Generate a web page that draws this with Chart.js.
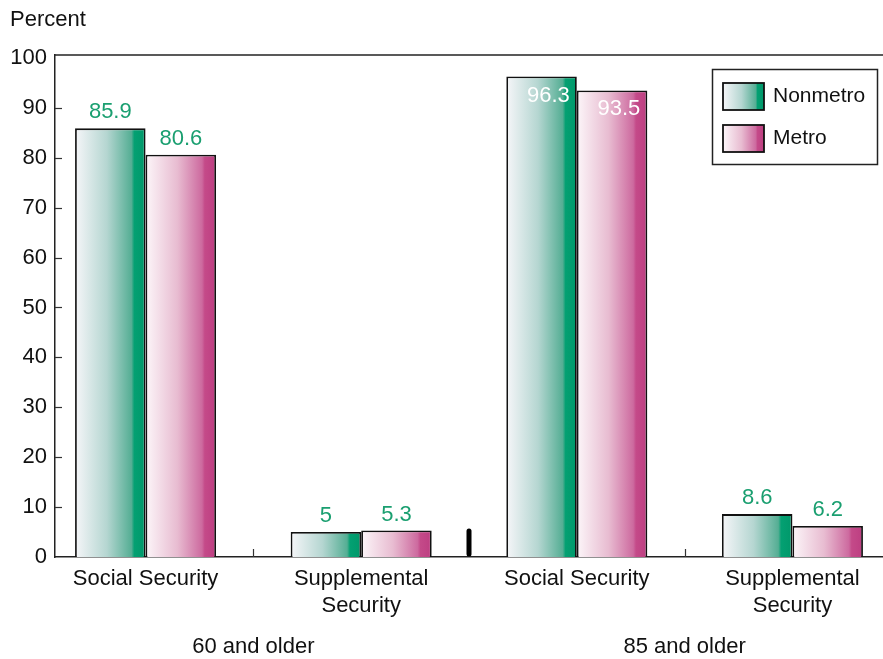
<!DOCTYPE html>
<html>
<head>
<meta charset="utf-8">
<script src="https://cdn.jsdelivr.net/npm/chart.js@4.4.1/dist/chart.umd.min.js"></script>
<style>
  html, body { margin: 0; background: #fff; }
  #wrap { width: 883px; height: 659px; position: relative; }
</style>
</head>
<body>
<div id="wrap"><canvas id="chart"></canvas></div>
<script>
// data
const categories = [['Social Security'], ['Supplemental', 'Security'], ['Social Security'], ['Supplemental', 'Security']];
const ageGroups = ['60 and older', '85 and older'];
const seriesNames = ['Nonmetro', 'Metro'];
const nonmetro = [85.9, 5, 96.3, 8.6];
const metro = [80.6, 5.3, 93.5, 6.2];
const yTicks = [0, 10, 20, 30, 40, 50, 60, 70, 80, 90, 100];

const FONT = "'Liberation Sans', Arial, sans-serif";
const TEXT = '#111';
const LABEL_GREEN = '#1a9f70';
const CAT_PCT = 0.654;

// gradient stops, left edge of bar -> right edge
const GREEN_STOPS = [[0, '#f6f6f9'], [0.45, '#b5d6d1'], [0.8, '#55ae94'], [0.84, '#04a072'], [1, '#00986a']];
const PINK_STOPS = [[0, '#fcf6f9'], [0.45, '#e8bcd1'], [0.8, '#cd6a9f'], [0.84, '#c44a89'], [1, '#bd3e81']];
const allStops = [GREEN_STOPS, PINK_STOPS];

function makeGradient(ctx, x0, x1, stops) {
    const g = ctx.createLinearGradient(x0, 0, x1, 0);
    stops.forEach(s => g.addColorStop(s[0], s[1]));
    return g;
}

// bar fill follows the bar's own left/right edge on the x scale
function barFill(c) {
    const chart = c.chart;
    const stops = allStops[c.datasetIndex];
    const xs = chart.scales.x;
    if (!chart.chartArea || c.dataIndex === undefined || !xs) return stops[stops.length - 1][1];
    const unit = xs.getPixelForValue(1) - xs.getPixelForValue(0);
    const w = unit * CAT_PCT / chart.data.datasets.length;
    const left = xs.getPixelForValue(c.raw.x) - unit * CAT_PCT / 2 + c.datasetIndex * w;
    return makeGradient(chart.ctx, left, left + w, stops);
}

const decor = {
    id: 'decor',
    afterDraw(chart) {
        const ctx = chart.ctx;
        const area = chart.chartArea;
        const xs = chart.scales.x;
        const ys = chart.scales.y;
        ctx.save();

        // "Percent" heading
        ctx.fillStyle = TEXT;
        ctx.font = '22px ' + FONT;
        ctx.textAlign = 'left';
        ctx.textBaseline = 'middle';
        ctx.fillText('Percent', 10, 20);

        // top frame line
        ctx.strokeStyle = '#222';
        ctx.lineWidth = 1.5;
        ctx.beginPath();
        ctx.moveTo(area.left, area.top);
        ctx.lineTo(chart.width, area.top);
        ctx.stroke();

        // inward y ticks
        ctx.strokeStyle = '#333';
        ctx.lineWidth = 1.2;
        yTicks.slice(1, -1).forEach(v => {
            const y = Math.round(ys.getPixelForValue(v)) + 0.5;
            ctx.beginPath();
            ctx.moveTo(area.left, y);
            ctx.lineTo(area.left + 7, y);
            ctx.stroke();
        });

        // small ticks between categories inside each age group
        [0.5, 2.5].forEach(v => {
            const x = Math.round(xs.getPixelForValue(v)) + 0.5;
            ctx.beginPath();
            ctx.moveTo(x, area.bottom);
            ctx.lineTo(x, area.bottom - 8);
            ctx.stroke();
        });

        // thick separator between the age groups
        ctx.strokeStyle = '#000';
        ctx.lineWidth = 5;
        ctx.lineCap = 'round';
        const sx = xs.getPixelForValue(1.5);
        ctx.beginPath();
        ctx.moveTo(sx, area.bottom - 3);
        ctx.lineTo(sx, area.bottom - 26);
        ctx.stroke();
        ctx.lineCap = 'butt';

        // age group labels
        ctx.fillStyle = TEXT;
        ctx.font = '22px ' + FONT;
        ctx.textAlign = 'center';
        ctx.textBaseline = 'middle';
        ageGroups.forEach((g, i) => {
            const x = (xs.getPixelForValue(i * 2) + xs.getPixelForValue(i * 2 + 1)) / 2;
            ctx.fillText(g, x, 647);
        });

        // value labels
        ctx.font = '22px ' + FONT;
        chart.data.datasets.forEach((ds, di) => {
            chart.getDatasetMeta(di).data.forEach((el, i) => {
                const v = ds.data[i].y;
                if (v > 90) {
                    ctx.fillStyle = '#ffffff';
                    ctx.textAlign = 'right';
                    ctx.textBaseline = 'top';
                    ctx.fillText(String(v), el.x + el.width / 2 - 7, el.y + 8);
                } else {
                    ctx.fillStyle = LABEL_GREEN;
                    ctx.textAlign = 'center';
                    ctx.textBaseline = 'bottom';
                    ctx.fillText(String(v), el.x, el.y - 5);
                }
            });
        });

        // legend box
        const lx = 712, ly = 69, lw = 165, lh = 95;
        ctx.strokeStyle = '#222';
        ctx.lineWidth = 1.5;
        ctx.strokeRect(lx + 0.5, ly + 0.5, lw, lh);
        seriesNames.forEach((name, i) => {
            const top = ly + 14 + i * 42;
            ctx.fillStyle = makeGradient(ctx, lx + 11, lx + 52, allStops[i]);
            ctx.fillRect(lx + 11, top, 41, 27);
            ctx.strokeStyle = '#111';
            ctx.lineWidth = 1.8;
            ctx.strokeRect(lx + 11, top, 41, 27);
            ctx.fillStyle = TEXT;
            ctx.font = '21px ' + FONT;
            ctx.textAlign = 'left';
            ctx.textBaseline = 'middle';
            ctx.fillText(name, lx + 61, top + 13);
        });

        ctx.restore();
    }
};

Chart.defaults.font.family = FONT;
Chart.defaults.color = TEXT;

const canvas = document.getElementById('chart');
new Chart(canvas, {
    type: 'bar',
    data: {
        datasets: [
            {
                label: seriesNames[0],
                data: nonmetro.map((v, i) => ({ x: i, y: v })),
                backgroundColor: barFill,
                borderColor: '#111',
                borderWidth: 1.8,
                categoryPercentage: CAT_PCT,
                barPercentage: 1
            },
            {
                label: seriesNames[1],
                data: metro.map((v, i) => ({ x: i, y: v })),
                backgroundColor: barFill,
                borderColor: '#111',
                borderWidth: 1.8,
                categoryPercentage: CAT_PCT,
                barPercentage: 1
            }
        ]
    },
    options: {
        responsive: true,
        maintainAspectRatio: false,
        animation: false,
        layout: { padding: { top: 55, right: 0, left: 0, bottom: 0 } },
        plugins: {
            legend: { display: false },
            tooltip: { enabled: false }
        },
        scales: {
            x: {
                type: 'linear',
                offset: false,
                min: -0.42,
                max: 3.42,
                afterBuildTicks: s => { s.ticks = categories.map((c, i) => ({ value: i })); },
                ticks: {
                    callback: v => categories[v],
                    font: { size: 22, lineHeight: 1.25 },
                    padding: 8,
                    autoSkip: false,
                    maxRotation: 0,
                    color: TEXT
                },
                grid: { display: false, drawTicks: false, offset: false },
                border: { color: '#222', width: 1.5 },
                afterFit: s => { s.height = 102; }
            },
            y: {
                min: 0,
                max: 100.6,
                afterBuildTicks: s => { s.ticks = yTicks.map(v => ({ value: v })); },
                ticks: { font: { size: 22 }, padding: 8, color: TEXT },
                grid: { display: false, drawTicks: false },
                border: { color: '#222', width: 1.5 },
                afterFit: s => { s.width = 55; }
            }
        }
    },
    plugins: [decor]
});
</script>
</body>
</html>
